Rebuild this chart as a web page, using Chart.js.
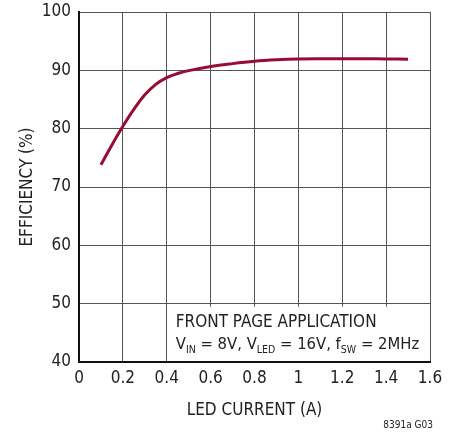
<!DOCTYPE html>
<html><head><meta charset="utf-8">
<script src="https://cdn.jsdelivr.net/npm/chart.js@4"></script>
<style>html,body{margin:0;padding:0;background:#fff}#wrap{width:455px;height:435px}</style>
</head><body><div id="wrap"><canvas id="c" width="455" height="435"></canvas></div>
<script>
const ledCurrent = [0.1,0.15,0.2,0.25,0.3,0.35,0.4,0.45,0.5,0.6,0.7,0.8,0.9,1.0,1.1,1.2,1.3,1.4,1.5];
const efficiency = [73.8,77.2,80.4,83.3,85.8,87.6,88.75,89.45,89.95,90.65,91.15,91.55,91.8,91.95,92.0,92.0,92.0,91.95,91.9];
const xTickLabels = ['0','0.2','0.4','0.6','0.8','1','1.2','1.4','1.6'];
const yTickLabels = ['40','50','60','70','80','90','100'];
const FONT = '"Liberation Sans Narrow","DejaVu Sans Condensed","Roboto Condensed",sans-serif';

const boxPlugin = {
  id:'box',
  afterDatasetsDraw(chart){
    const {ctx, scales:{x,y}, chartArea:a} = chart;
    const x0 = x.getPixelForValue(0.4)+1, y0 = y.getPixelForValue(50)+3;
    ctx.save();
    ctx.fillStyle='#fff';
    ctx.fillRect(x0, y0, a.right-1-x0, a.bottom-1-y0);
    ctx.fillStyle='#222';
    ctx.textBaseline='alphabetic';
    ctx.font='17px '+FONT;
    const tx = x0+8;
    ctx.fillText('FRONT PAGE APPLICATION', tx, y0+20);
    const parts=[['V',0],['IN',1],[' = 8V, V',0],['LED',1],[' = 16V, f',0],['SW',1],[' = 2MHz',0]];
    let cx=tx; const by=y0+42;
    for(const [t,s] of parts){
      ctx.font=(s?'10.5px ':'16.5px ')+FONT;
      ctx.fillText(t,cx,by+(s?4:0));
      cx+=ctx.measureText(t).width;
    }
    ctx.font='10px '+FONT;
    ctx.textAlign='right';
    ctx.fillText('8391a G03', 433, 428);
    ctx.restore();
  }
};

new Chart(document.getElementById('c'),{
  type:'line',
  data:{datasets:[{data:ledCurrent.map((v,i)=>({x:v,y:efficiency[i]})),borderColor:'#980c33',borderWidth:3,pointRadius:0,tension:0.4,fill:false}]},
  options:{
    responsive:false,animation:false,
    layout:{padding:{top:12,right:25,left:0,bottom:0}},
    plugins:{legend:{display:false},tooltip:{enabled:false}},
    scales:{
      x:{type:'linear',min:0,max:1.6,
        ticks:{stepSize:0.2,color:'#222',font:{family:FONT,size:17},padding:6,maxRotation:0,
          callback:(v,i)=>xTickLabels[i]},
        grid:{color:'#555',lineWidth:1,drawTicks:false},
        border:{color:'#111',width:2},
        title:{display:true,text:'LED CURRENT (A)',color:'#222',font:{family:FONT,size:17},padding:{top:4,bottom:14}},
        afterFit(s){s.height=73;s.paddingLeft=0;s.paddingRight=0;}
      },
      y:{min:40,max:100,
        ticks:{stepSize:10,color:'#222',font:{family:FONT,size:17},padding:8,
          callback:(v,i)=>yTickLabels[i]},
        grid:{color:'#555',lineWidth:1,drawTicks:false},
        border:{color:'#111',width:2},
        title:{display:true,text:'EFFICIENCY (%)',color:'#222',font:{family:FONT,size:17},padding:{top:17,bottom:0}},
        afterFit(s){s.width=79;s.paddingTop=0;s.paddingBottom=0;}
      }
    }
  },
  plugins:[boxPlugin]
});
</script></body></html>
